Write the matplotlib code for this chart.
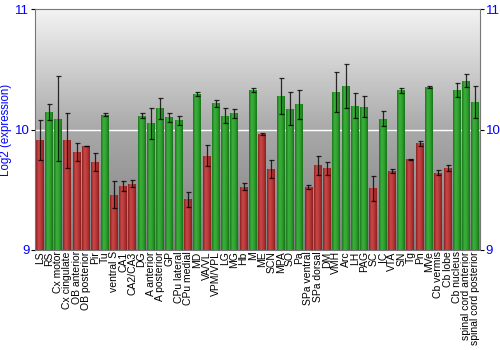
import numpy as np
import matplotlib
matplotlib.use('Agg')
import matplotlib.pyplot as plt
from matplotlib.colors import LinearSegmentedColormap

plt.rcParams['font.family'] = ['Liberation Sans', 'DejaVu Sans']

regions = ['LS', 'RS', 'Cx motor', 'Cx cingulate', 'OB anterior', 'OB posterior', 'Pir', 'Tu',
           'ventral S', 'CA1', 'CA2/CA3', 'DG', 'A anterior', 'A posterior', 'GP', 'CPu lateral',
           'CPu medial', 'MD', 'VA/VL', 'VPM/VPL', 'LG', 'MG', 'Hb', 'M', 'ME', 'SCN', 'MPA', 'SO',
           'Pa', 'SPa ventral', 'SPa dorsal', 'DM', 'VMH', 'Arc', 'LH', 'PAG', 'SC', 'IC', 'VTA',
           'SN', 'Tg', 'Pn', 'MVe', 'Cb vermis', 'Cb lobe', 'Cb nucleus', 'spinal cord anterior',
           'spinal cord posterior']
expr = [9.91, 10.146, 10.091, 9.909, 9.815, 9.862, 9.729, 10.122,
        9.459, 9.530, 9.550, 10.116, 10.050, 10.177, 10.100, 10.075,
        9.420, 10.296, 9.782, 10.218, 10.116, 10.133, 9.525, 10.326, 9.964, 9.671, 10.276, 10.174,
        10.210, 9.522, 9.704, 9.680, 10.312, 10.359, 10.199, 10.190, 9.511, 10.091, 9.652,
        10.326, 9.751, 9.884, 10.354, 9.641, 9.677, 10.329, 10.406,
        10.229]
err = [0.166, 0.065, 0.355, 0.23, 0.073, 0.003, 0.077, 0.012,
       0.112, 0.04, 0.027, 0.02, 0.13, 0.087, 0.041, 0.039,
       0.064, 0.015, 0.087, 0.03, 0.062, 0.041, 0.029, 0.017, 0.008, 0.072, 0.148, 0.14,
       0.12, 0.015, 0.079, 0.054, 0.168, 0.184, 0.104, 0.088, 0.105, 0.063, 0.017,
       0.019, 0.002, 0.023, 0.006, 0.023, 0.025, 0.057, 0.054,
       0.135]
baseline = 10.0

fig = plt.figure(figsize=(5, 3.5), dpi=100)
ax = fig.add_axes([0.07, 0.286, 0.89, 0.688])

# grey background gradient
bg = LinearSegmentedColormap.from_list('bg', ['#7e7e7e', '#a9a9a9', '#f3f3f3'])
ax.imshow(np.linspace(0, 1, 256).reshape(-1, 1), cmap=bg, aspect='auto',
          extent=(-0.5, len(regions) - 0.5, 9, 11), origin='lower', zorder=0)

red_cm = LinearSegmentedColormap.from_list('r', ['#8e2222', '#c84848', '#b83636', '#8a2020'])
green_cm = LinearSegmentedColormap.from_list('g', ['#1d781d', '#3cb03c', '#2ea02e', '#1a721a'])

x = np.arange(len(regions))
for i, v in enumerate(expr):
    cm = green_cm if v >= baseline else red_cm
    bar = ax.bar(x[i], v - 9, bottom=9, width=0.86, color='none', zorder=2)[0]
    im = ax.imshow(np.linspace(0, 1, 64).reshape(1, -1), cmap=cm, aspect='auto',
                   extent=(x[i] - 0.43, x[i] + 0.43, 9, v), zorder=2)
    im.set_clip_path(bar)

ax.errorbar(x, expr, yerr=err, fmt='none', ecolor='black', elinewidth=0.9,
            capsize=1.8, capthick=0.9, alpha=0.8, zorder=3)

ax.axhline(10, color='white', lw=1, zorder=1)

ax.set_xlim(-0.5, len(regions) - 0.5)
ax.set_ylim(9, 11)
ax.set_yticks([9, 10, 11])
ax.tick_params(axis='y', left=True, right=True, labelleft=True, labelright=True,
               labelcolor='blue', labelsize=9.5, length=3, pad=1)
ax.set_xticks(x)
ax.set_xticklabels(regions, rotation=90, fontsize=7.5)
ax.tick_params(axis='x', length=0, pad=1)
ax.set_ylabel('Log2 (expression)', color='blue', fontsize=8.3, labelpad=2)
for s in ax.spines.values():
    s.set_color('#777777')

fig.savefig('out.png', dpi=100)
plt.close(fig)
